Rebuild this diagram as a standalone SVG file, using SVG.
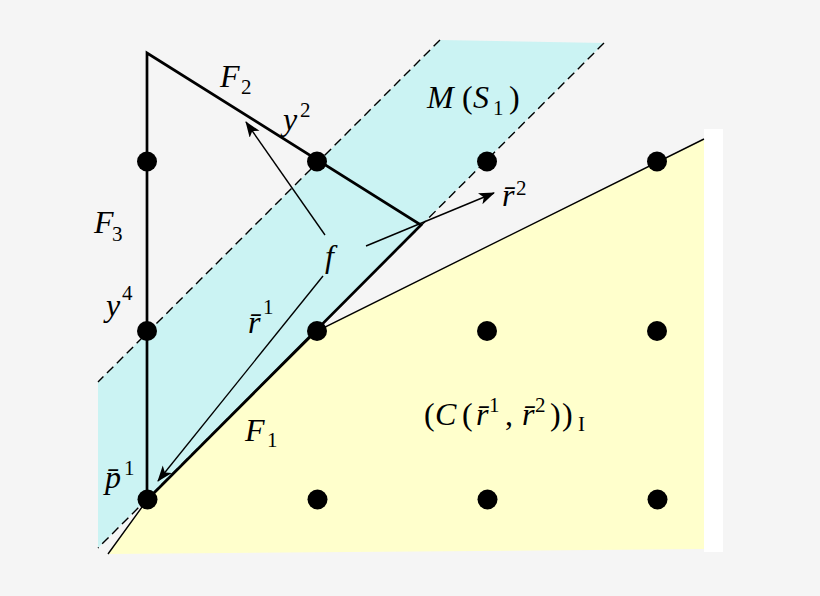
<svg xmlns="http://www.w3.org/2000/svg" width="820" height="596" viewBox="0 0 820 596">
<style>
.m{font-family:"Liberation Serif","DejaVu Serif",serif;font-style:italic;font-size:32px;fill:#000}
.u{font-style:normal}
.s{font-size:21px;font-style:normal}
.thick{stroke:#000;stroke-width:2.7;fill:none;stroke-linecap:round;stroke-linejoin:miter}
.thin{stroke:#000;stroke-width:1.4;fill:none}
.dash{stroke:#000;stroke-width:1.4;fill:none;stroke-dasharray:9 5}
.dot{fill:#000}
</style>
<defs>
<marker id="ah" markerUnits="userSpaceOnUse" markerWidth="18" markerHeight="14" refX="15" refY="6" orient="auto">
<path d="M0,0 L16,6 L0,12 L4,6 z" fill="#000"/>
</marker>
</defs>
<rect width="820" height="596" fill="#f5f5f5"/>
<g id="regions">
<polygon id="band" points="440,40 604,43 98,548 98,382" fill="#cbf3f3"/>
<polygon id="hull" points="108,554 147.5,499.5 317,331 704,139 704,549" fill="#ffffcc"/>
<rect x="704" y="129" width="19" height="423" fill="#ffffff"/>
</g>
<g id="connectors">
<line class="dash" x1="440" y1="40" x2="98" y2="382"/>
<line class="dash" x1="604" y1="43" x2="98" y2="548"/>
<polyline class="thin" points="108,554 147.5,499.5 317,331 704,139"/>
<polyline class="thick" points="147,499.5 147,53 421,225 147.5,499.5"/>
<line class="thin" x1="325" y1="235" x2="246" y2="122" marker-end="url(#ah)"/>
<line class="thin" x1="366" y1="246" x2="494" y2="193" marker-end="url(#ah)"/>
<line class="thin" x1="323" y1="276" x2="158" y2="481" marker-end="url(#ah)"/>
</g>
<g id="nodes">
<circle id="n11" class="dot" cx="147" cy="161.5" r="10"/>
<circle id="n12" class="dot" cx="317" cy="161.5" r="10"/>
<circle id="n13" class="dot" cx="487" cy="161.5" r="10"/>
<circle id="n14" class="dot" cx="657" cy="161.5" r="10"/>
<circle id="n21" class="dot" cx="147" cy="331" r="10"/>
<circle id="n22" class="dot" cx="317" cy="331" r="10"/>
<circle id="n23" class="dot" cx="487" cy="331" r="10"/>
<circle id="n24" class="dot" cx="657" cy="331" r="10"/>
<circle id="n31" class="dot" cx="147.5" cy="499.5" r="10"/>
<circle id="n32" class="dot" cx="317.5" cy="499.5" r="10"/>
<circle id="n33" class="dot" cx="487.5" cy="499.5" r="10"/>
<circle id="n34" class="dot" cx="657.5" cy="499.5" r="10"/>
</g>
<g id="labels">
<text class="m" x="220" y="87">F<tspan class="s" x="241" y="94">2</tspan></text>
<text class="m" x="283" y="130">y<tspan class="s" x="300" y="117">2</tspan></text>
<text class="m" x="94" y="233">F<tspan class="s" x="112" y="241">3</tspan></text>
<text class="m" x="325" y="267">f</text>
<text class="m" x="427" y="108">M<tspan class="u" x="462">(</tspan><tspan x="473">S</tspan><tspan class="s" x="493" y="115">1</tspan><tspan class="u" x="509" y="108">)</tspan></text>
<text class="m" x="502" y="206">r̄<tspan class="s" x="516" y="195">2</tspan></text>
<text class="m" x="106" y="316">y<tspan class="s" x="122" y="300">4</tspan></text>
<text class="m" x="248" y="333">r̄<tspan class="s" x="263" y="314">1</tspan></text>
<text class="m" x="245" y="441">F<tspan class="s" x="267" y="447">1</tspan></text>
<text class="m" x="105" y="488">p̄<tspan class="s" x="124" y="475">1</tspan></text>
<text class="m" x="424" y="425"><tspan class="u">(</tspan><tspan x="435">C</tspan><tspan class="u" x="462">(</tspan><tspan x="476">r̄</tspan><tspan class="s" x="489" y="412">1</tspan><tspan class="u" x="505" y="425">,</tspan><tspan x="522">r̄</tspan><tspan class="s" x="535" y="412">2</tspan><tspan class="u" x="550" y="425">)</tspan><tspan class="u" x="562">)</tspan><tspan class="s" x="578" y="431">I</tspan></text>
</g>
</svg>
